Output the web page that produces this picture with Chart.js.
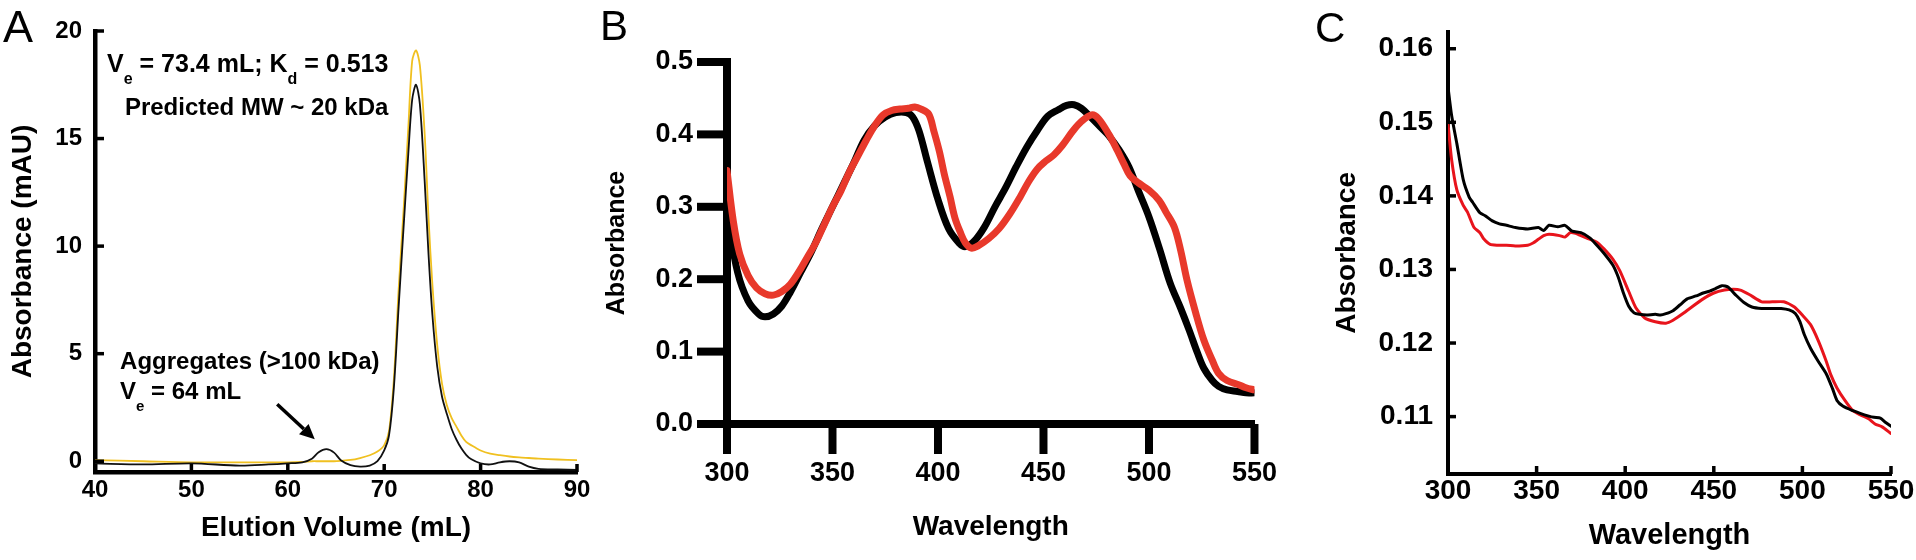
<!DOCTYPE html>
<html>
<head>
<meta charset="utf-8">
<script src="https://cdn.jsdelivr.net/npm/chart.js@4.4.1/dist/chart.umd.min.js"></script>
<style>
  html, body { margin: 0; padding: 0; background: #fff; }
  body { width: 1916px; height: 560px; position: relative; overflow: hidden; }
  canvas { position: absolute; top: 0; }
</style>
</head>
<body>
<canvas id="cA" width="600" height="560" style="left:0px"></canvas>
<canvas id="cB" width="710" height="560" style="left:600px"></canvas>
<canvas id="cC" width="606" height="560" style="left:1310px"></canvas>
<script>
// ---------------- Panel A data (SEC chromatogram) ----------------
const aVolume = [40, 45, 50, 55, 58, 60, 61.5, 62.5, 63.2, 64, 64.8, 65.5, 66.5, 67.5, 68.5, 69.3, 70, 70.5, 71, 71.5, 72, 72.5, 72.9, 73.3, 73.7, 74.2, 74.6, 75, 75.5, 76, 76.5, 77, 77.5, 78, 78.5, 79, 80, 81, 82, 83, 84, 85, 86, 88, 90];
const aYellow = [0.05, 0.0, -0.05, -0.05, -0.05, -0.05, -0.03, 0.0, 0.0, 0.0, 0.0, 0.02, 0.06, 0.15, 0.28, 0.45, 0.75, 1.4, 3.8, 8.0, 11.6, 15.5, 18.6, 19.1, 18.4, 15.2, 11.3, 8.2, 5.4, 3.6, 2.6, 2.0, 1.6, 1.2, 0.9, 0.75, 0.5, 0.35, 0.28, 0.22, 0.18, 0.15, 0.12, 0.08, 0.05];
const aBlack  = [-0.1, -0.15, -0.1, -0.2, -0.15, -0.1, -0.05, 0.12, 0.42, 0.56, 0.4, 0.05, -0.18, -0.25, -0.2, 0.0, 0.5, 1.2, 3.4, 7.2, 10.8, 14.3, 16.8, 17.5, 16.6, 13.0, 9.6, 6.8, 4.4, 3.0, 2.2, 1.5, 1.0, 0.6, 0.3, 0.1, -0.1, -0.15, -0.05, 0.0, -0.05, -0.25, -0.35, -0.38, -0.4];
const aXTicks = [40, 50, 60, 70, 80, 90];
const aYTicks = [0, 5, 10, 15, 20];

// ---------------- Panel B data (absorbance spectra) ----------------
const bBlackWl  = [300, 305, 310, 315, 318, 322, 326, 330, 335, 340, 345, 350, 355, 360, 365, 370, 375, 380, 385, 388, 391, 395, 400, 405, 410, 413, 417, 422, 427, 432, 437, 442, 447, 452, 457, 461, 464.5, 468, 472, 477, 481, 486, 490.5, 495, 500, 505, 510, 515, 519, 523, 526, 530, 533, 537, 542, 546, 550];
const bBlackAbs = [0.29, 0.21, 0.17, 0.152, 0.148, 0.152, 0.163, 0.182, 0.21, 0.238, 0.27, 0.30, 0.33, 0.36, 0.392, 0.412, 0.424, 0.43, 0.43, 0.424, 0.405, 0.362, 0.31, 0.27, 0.25, 0.245, 0.252, 0.272, 0.30, 0.326, 0.355, 0.382, 0.405, 0.425, 0.434, 0.44, 0.441, 0.436, 0.425, 0.41, 0.398, 0.378, 0.355, 0.322, 0.286, 0.242, 0.195, 0.16, 0.13, 0.098, 0.077, 0.06, 0.052, 0.047, 0.045, 0.043, 0.043];
const bRedWl  = [300, 303, 306, 310, 314, 318, 322, 326, 330, 334, 338, 342, 346, 350, 354, 358, 362, 366, 370, 374, 378, 382, 386, 389, 392, 395.6, 398, 400.7, 403, 405.7, 408, 410.7, 413, 415.8, 419, 424, 429, 434, 439, 443, 447, 451, 455, 459, 464, 468, 472.8, 476, 481, 485, 488, 491, 495, 500, 504.8, 508, 512, 515, 518, 522, 526, 530, 533, 537, 542.8, 546, 550];
const bRedAbs = [0.35, 0.28, 0.235, 0.205, 0.188, 0.18, 0.178, 0.183, 0.193, 0.21, 0.23, 0.25, 0.275, 0.30, 0.322, 0.348, 0.37, 0.392, 0.412, 0.427, 0.433, 0.435, 0.436, 0.438, 0.435, 0.428, 0.405, 0.376, 0.345, 0.314, 0.285, 0.264, 0.25, 0.243, 0.246, 0.256, 0.27, 0.29, 0.314, 0.335, 0.352, 0.363, 0.372, 0.385, 0.405, 0.418, 0.427, 0.422, 0.40, 0.378, 0.36, 0.343, 0.333, 0.323, 0.309, 0.293, 0.272, 0.24, 0.199, 0.155, 0.116, 0.088, 0.07, 0.06, 0.054, 0.05, 0.047];
const bXTicks = [300, 350, 400, 450, 500, 550];
const bYTicks = [0.0, 0.1, 0.2, 0.3, 0.4, 0.5];

// ---------------- Panel C data (zoomed spectra) ----------------
const cBlackWl  = [300, 302, 305, 308.6, 312, 314, 318, 321, 325, 329, 333, 338, 345, 351, 354, 357, 362, 366, 370, 375, 380, 384, 388, 393, 396, 399, 402, 405, 408, 412, 417, 420, 423, 427, 431, 435, 440, 444, 447, 451, 454.6, 458, 462.5, 467, 471.5, 477, 483.4, 488, 492.5, 496, 498.6, 501, 504.6, 509, 513.5, 517, 519.5, 523, 528.5, 533, 537, 540.4, 544, 547, 549.4, 550];
const cBlackAbs = [0.1548, 0.151, 0.1471, 0.1422, 0.1398, 0.1391, 0.1377, 0.1373, 0.1366, 0.1362, 0.136, 0.1357, 0.1355, 0.1357, 0.1353, 0.136, 0.1358, 0.136, 0.1352, 0.135, 0.1343, 0.1333, 0.1322, 0.1306, 0.129, 0.1268, 0.125, 0.1241, 0.1239, 0.1238, 0.1239, 0.1238, 0.124, 0.1244, 0.1252, 0.126, 0.1264, 0.1268, 0.127, 0.1274, 0.1278, 0.1276, 0.1265, 0.1255, 0.1249, 0.1247, 0.1247, 0.1247, 0.1245, 0.124, 0.1229, 0.1212, 0.1193, 0.1175, 0.1158, 0.1138, 0.1122, 0.1114, 0.1108, 0.1104, 0.1101, 0.1099, 0.1098, 0.1092, 0.1088, 0.1087];
const cRedWl  = [300, 302, 305, 308.6, 311, 314.7, 318, 320, 323.8, 328, 333, 338, 345, 348, 351, 354, 357, 363, 366, 369, 372, 375, 379, 384, 388, 393, 397, 402, 406, 411, 417, 423, 427, 432, 437, 444, 450, 456, 461, 465, 470, 477, 483, 489.5, 495.5, 500, 504.6, 509, 513.5, 516, 519.5, 524, 528.5, 533, 537.4, 541, 545, 549.4, 550];
const cRedAbs = [0.1498, 0.145, 0.1408, 0.1387, 0.1378, 0.1357, 0.135, 0.1342, 0.1334, 0.1333, 0.1333, 0.1332, 0.1333, 0.1336, 0.1341, 0.1346, 0.1348, 0.1346, 0.1344, 0.135, 0.1349, 0.1346, 0.1342, 0.1337, 0.1328, 0.1314, 0.1298, 0.127, 0.1248, 0.1234, 0.1229, 0.1227, 0.1231, 0.1239, 0.1248, 0.126, 0.1268, 0.1272, 0.1273, 0.1272, 0.1266, 0.1256, 0.1256, 0.1256, 0.1249, 0.1238, 0.1225, 0.1203, 0.1175, 0.1157, 0.1139, 0.1122, 0.1108, 0.1102, 0.1097, 0.109, 0.1086, 0.1078, 0.1077];
const cXTicks = [300, 350, 400, 450, 500, 550];
const cYTicks = [0.11, 0.12, 0.13, 0.14, 0.15, 0.16];

// ---------------- helpers ----------------
const FONT = "'Liberation Sans', Arial, Helvetica, sans-serif";
function pts(xs, ys) { return xs.map((x, i) => ({ x: x, y: ys[i] })); }

const tickMarks = {
  id: 'tickMarks',
  afterDraw(chart, args, o) {
    const ctx = chart.ctx, ca = chart.chartArea;
    ctx.save();
    ctx.strokeStyle = '#000';
    ctx.lineCap = 'butt';
    ['x', 'y'].forEach(id => {
      const s = chart.scales[id], t = o[id];
      ctx.lineWidth = t.width;
      s.ticks.forEach(tk => {
        const p = s.getPixelForValue(tk.value);
        ctx.beginPath();
        if (id === 'x') { ctx.moveTo(p, ca.bottom); ctx.lineTo(p, ca.bottom + t.dir * t.len); }
        else { ctx.moveTo(ca.left, p); ctx.lineTo(ca.left - t.dir * t.len, p); }
        ctx.stroke();
      });
    });
    ctx.restore();
  }
};

const panelLetter = {
  id: 'panelLetter',
  afterDraw(chart, args, o) {
    const ctx = chart.ctx;
    ctx.save();
    ctx.fillStyle = '#000';
    ctx.font = 'normal ' + o.size + 'px ' + FONT;
    ctx.textBaseline = 'alphabetic';
    ctx.textAlign = 'left';
    ctx.fillText(o.text, o.x, o.y);
    ctx.restore();
  }
};

function drawRuns(ctx, runs, x, y, size) {
  let cx = x;
  runs.forEach(r => {
    const sub = r[1];
    const fs = sub ? Math.round(size * 0.64) : size;
    ctx.font = 'bold ' + fs + 'px ' + FONT;
    ctx.fillText(r[0], cx, sub ? y + size * 0.5 : y);
    cx += ctx.measureText(r[0]).width;
  });
}

const annoA = {
  id: 'annoA',
  afterDatasetsDraw(chart) {
    const ctx = chart.ctx, xs = chart.scales.x, ys = chart.scales.y;
    const px = v => xs.getPixelForValue(v), py = v => ys.getPixelForValue(v);
    ctx.save();
    ctx.fillStyle = '#000';
    ctx.textBaseline = 'alphabetic';
    ctx.textAlign = 'left';
    drawRuns(ctx, [['V', 0], ['e', 1], [' = 73.4 mL; K', 0], ['d', 1], [' = 0.513', 0]], px(41.25), py(18.1), 25);
    drawRuns(ctx, [['Predicted MW ~ 20 kDa', 0]], px(43.1), py(16.1), 24);
    drawRuns(ctx, [['Aggregates (>100 kDa)', 0]], px(42.6), py(4.27), 24);
    drawRuns(ctx, [['V', 0], ['e', 1], [' = 64 mL', 0]], px(42.6), py(2.88), 24);
    // arrow
    const x1 = px(58.9), y1 = py(2.65), x2 = px(62.8), y2 = py(1.02);
    const ang = Math.atan2(y2 - y1, x2 - x1);
    const hl = 15, hw = 7;
    const bx = x2 - hl * Math.cos(ang), by = y2 - hl * Math.sin(ang);
    ctx.strokeStyle = '#000';
    ctx.lineWidth = 3.5;
    ctx.beginPath(); ctx.moveTo(x1, y1); ctx.lineTo(bx, by); ctx.stroke();
    ctx.beginPath();
    ctx.moveTo(x2, y2);
    ctx.lineTo(bx + hw * Math.sin(ang), by - hw * Math.cos(ang));
    ctx.lineTo(bx - hw * Math.sin(ang), by + hw * Math.cos(ang));
    ctx.closePath(); ctx.fill();
    ctx.restore();
  }
};

function makeChart(id, cfg) {
  const setTicks = arr => (s => { s.ticks = arr.map(v => ({ value: v })); });
  return new Chart(document.getElementById(id), {
    type: 'line',
    data: { datasets: cfg.datasets },
    options: {
      responsive: false,
      animation: false,
      devicePixelRatio: 1,
      events: [],
      layout: { padding: { left: 0, top: cfg.padTop, right: cfg.padRight, bottom: 0 } },
      elements: { point: { radius: 0 }, line: { tension: 0.35, borderCapStyle: 'round', borderJoinStyle: 'round' } },
      plugins: {
        legend: { display: false },
        tooltip: { enabled: false },
        tickMarks: cfg.tickMarks,
        panelLetter: cfg.letter
      },
      scales: {
        x: {
          type: 'linear',
          min: cfg.xMin, max: cfg.xMax,
          afterBuildTicks: setTicks(cfg.xTicks),
          afterFit: s => { s.height = cfg.xHeight; },
          grid: { display: false, drawTicks: false },
          border: { display: true, color: '#000', width: cfg.axisWidth },
          ticks: {
            color: '#000', padding: cfg.xTickPad, maxRotation: 0, autoSkip: false,
            font: { family: FONT, size: cfg.tickSize, weight: 'bold' },
            callback: v => String(v)
          },
          title: {
            display: true, text: cfg.xTitle, color: '#000',
            font: { family: FONT, size: cfg.xTitleSize, weight: 'bold' },
            padding: { top: 0, bottom: cfg.xTitlePad }
          }
        },
        y: {
          type: 'linear',
          min: cfg.yMin, max: cfg.yMax,
          afterBuildTicks: setTicks(cfg.yTicks),
          afterFit: s => { s.width = cfg.yWidth; },
          grid: { display: false, drawTicks: false },
          border: { display: true, color: '#000', width: cfg.axisWidth },
          ticks: {
            color: '#000', padding: cfg.yTickPad, autoSkip: false,
            font: { family: FONT, size: cfg.tickSize, weight: 'bold' },
            callback: v => cfg.yFmt(v)
          },
          title: {
            display: true, text: cfg.yTitle, color: '#000',
            font: { family: FONT, size: cfg.yTitleSize, weight: 'bold' },
            padding: { top: cfg.yTitlePad, bottom: 0 }
          }
        }
      }
    },
    plugins: [tickMarks, panelLetter].concat(cfg.extra || [])
  });
}

// Panel A
makeChart('cA', {
  datasets: [
    { data: pts(aVolume, aBlack), borderColor: '#111111', borderWidth: 1.8, order: 0, tension: 0.3 },
    { data: pts(aVolume, aYellow), borderColor: '#f0c020', borderWidth: 1.8, order: 1, tension: 0.3 }
  ],
  xMin: 40, xMax: 90, yMin: -0.5, yMax: 20,
  xTicks: aXTicks, yTicks: aYTicks,
  padTop: 31, padRight: 23, xHeight: 88, yWidth: 95,
  axisWidth: 4.5, tickSize: 24, xTickPad: 4, yTickPad: 13,
  xTitle: 'Elution Volume (mL)', yTitle: 'Absorbance (mAU)',
  xTitleSize: 28, yTitleSize: 28, xTitlePad: 15, yTitlePad: 6,
  yFmt: v => String(v),
  tickMarks: { x: { len: 8, width: 3.5, dir: -1 }, y: { len: 9, width: 3.5, dir: -1 } },
  letter: { text: 'A', x: 3, y: 42, size: 45 },
  extra: [annoA]
});

// Panel B
makeChart('cB', {
  datasets: [
    { data: pts(bRedWl, bRedAbs), borderColor: '#e8392b', borderWidth: 7, order: 0 },
    { data: pts(bBlackWl, bBlackAbs), borderColor: '#000000', borderWidth: 7, order: 1 }
  ],
  xMin: 300, xMax: 550, yMin: 0, yMax: 0.5,
  xTicks: bXTicks, yTicks: bYTicks,
  padTop: 62, padRight: 23, xHeight: 136, yWidth: 127,
  axisWidth: 8, tickSize: 27, xTickPad: 33, yTickPad: 34,
  xTitle: 'Wavelength', yTitle: 'Absorbance',
  xTitleSize: 28, yTitleSize: 25, xTitlePad: 16, yTitlePad: 2,
  yFmt: v => v.toFixed(1),
  tickMarks: { x: { len: 30, width: 8, dir: 1 }, y: { len: 30, width: 8, dir: 1 } },
  letter: { text: 'B', x: 0, y: 40, size: 42 }
});

// Panel C
makeChart('cC', {
  datasets: [
    { data: pts(cBlackWl, cBlackAbs), borderColor: '#000000', borderWidth: 3, order: 0, tension: 0.2 },
    { data: pts(cRedWl, cRedAbs), borderColor: '#e8141c', borderWidth: 3, order: 1, tension: 0.2 }
  ],
  xMin: 300, xMax: 550, yMin: 0.1022, yMax: 0.1623,
  xTicks: cXTicks, yTicks: cYTicks,
  padTop: 28, padRight: 25, xHeight: 86, yWidth: 138,
  axisWidth: 4, tickSize: 28, xTickPad: 0, yTickPad: 15,
  xTitle: 'Wavelength', yTitle: 'Absorbance',
  xTitleSize: 29, yTitleSize: 28, xTitlePad: 7, yTitlePad: 20,
  yFmt: v => v.toFixed(2),
  tickMarks: { x: { len: 8, width: 3.5, dir: -1 }, y: { len: 8, width: 3.5, dir: -1 } },
  letter: { text: 'C', x: 5, y: 42, size: 42 }
});
</script>
</body>
</html>
